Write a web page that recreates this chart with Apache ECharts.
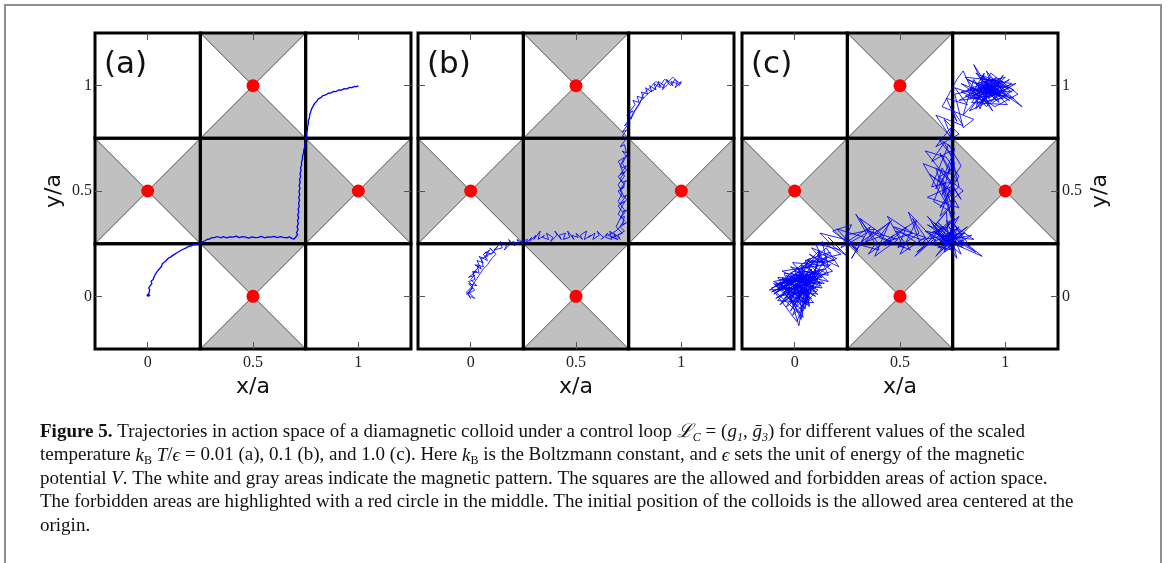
<!DOCTYPE html>
<html><head><meta charset="utf-8">
<script src="https://cdn.jsdelivr.net/npm/echarts@6/dist/echarts.min.js"></script>
<style>html,body{margin:0;padding:0;background:#fff}#c{width:1168px;height:563px}</style>
</head><body><div id="c"></div>
<script>
// ---------- data ----------
const tickValues = [0, 0.5, 1];
const axisMin = -0.25, axisMax = 1.25;
const panelLabels = ['(a)', '(b)', '(c)'];
// magnetic pattern cells: [x centre, y centre, kind]; kind 0 white, 1 full gray, 2 gray top/bottom, 3 gray left/right
const patternCells = [[0,0,0],[0.5,0,2],[1,0,0],[0,0.5,3],[0.5,0.5,1],[1,0.5,3],[0,1,0],[0.5,1,2],[1,1,0]];
const forbiddenCentres = [[0.5,1],[0,0.5],[1,0.5],[0.5,0]];

const trajA = [[0.000,0.000],[0.012,0.006],[-0.004,0.004],[0.006,0.014],[0.010,0.030],[0.005,0.040],[0.012,0.048],[0.020,0.060],[0.016,0.072],[0.026,0.080],[0.030,0.092],[0.036,0.104],[0.042,0.112],[0.050,0.124],[0.054,0.133],[0.066,0.143],[0.070,0.156],[0.082,0.164],[0.090,0.172],[0.098,0.181],[0.108,0.186],[0.115,0.194],[0.125,0.198],[0.134,0.206],[0.143,0.209],[0.152,0.218],[0.163,0.221],[0.172,0.228],[0.185,0.231],[0.196,0.238],[0.207,0.239],[0.218,0.245],[0.232,0.246],[0.242,0.250],[0.252,0.251],[0.262,0.259],[0.272,0.264],[0.284,0.271],[0.295,0.272],[0.305,0.279],[0.318,0.279],[0.330,0.284],[0.345,0.278],[0.360,0.283],[0.375,0.277],[0.390,0.282],[0.405,0.281],[0.420,0.286],[0.435,0.279],[0.450,0.283],[0.465,0.281],[0.480,0.276],[0.495,0.282],[0.510,0.279],[0.525,0.280],[0.540,0.285],[0.555,0.278],[0.570,0.282],[0.585,0.281],[0.600,0.285],[0.615,0.279],[0.630,0.283],[0.645,0.280],[0.660,0.278],[0.672,0.282],[0.684,0.275],[0.695,0.272],[0.703,0.281],[0.712,0.292],[0.706,0.302],[0.714,0.316],[0.709,0.330],[0.715,0.345],[0.711,0.360],[0.717,0.372],[0.712,0.386],[0.718,0.400],[0.714,0.414],[0.720,0.428],[0.716,0.442],[0.721,0.456],[0.717,0.470],[0.722,0.484],[0.718,0.498],[0.723,0.512],[0.719,0.526],[0.724,0.540],[0.721,0.554],[0.726,0.568],[0.723,0.582],[0.728,0.596],[0.726,0.610],[0.731,0.624],[0.730,0.638],[0.735,0.652],[0.735,0.666],[0.740,0.680],[0.741,0.694],[0.745,0.708],[0.746,0.722],[0.750,0.736],[0.751,0.750],[0.755,0.764],[0.755,0.778],[0.759,0.792],[0.759,0.806],[0.763,0.820],[0.763,0.834],[0.768,0.848],[0.769,0.862],[0.774,0.876],[0.778,0.890],[0.786,0.904],[0.792,0.915],[0.803,0.926],[0.810,0.937],[0.822,0.943],[0.832,0.953],[0.845,0.956],[0.857,0.964],[0.870,0.965],[0.882,0.973],[0.895,0.972],[0.908,0.980],[0.920,0.979],[0.933,0.986],[0.946,0.985],[0.958,0.992],[0.970,0.991],[0.982,0.997],[0.992,0.995],[1.000,1.000]];

const trajB = [[0.00,0.00],[0.02,-0.01],[-0.01,0.02],[0.01,0.04],[-0.02,0.01],[0.02,0.03],[-0.01,0.06],[0.03,0.05],[0.00,0.08],[0.02,0.10],[-0.01,0.09],[0.03,0.12],[0.01,0.11],[0.04,0.14],[0.02,0.15],[0.05,0.13],[0.03,0.17],[0.06,0.16],[0.04,0.19],[0.08,0.17],[0.06,0.20],[0.09,0.22],[0.07,0.19],[0.11,0.21],[0.09,0.23],[0.12,0.20],[0.10,0.18],[0.08,0.15],[0.06,0.13],[0.04,0.10],[0.02,0.07],[0.00,0.04],[-0.02,0.02],[0.00,-0.01],[-0.01,0.01],[0.01,0.05],[-0.01,0.07],[0.02,0.08],[0.01,0.12],[0.04,0.11],[0.03,0.15],[0.06,0.14],[0.05,0.18],[0.08,0.19],[0.07,0.21],[0.10,0.20],[0.13,0.24],[0.11,0.22],[0.15,0.23],[0.14,0.26],[0.17,0.24],[0.16,0.22],[0.19,0.25],[0.18,0.27],[0.21,0.24],[0.20,0.26],[0.23,0.25],[0.22,0.27],[0.25,0.25],[0.24,0.26],[0.27,0.27],[0.26,0.25],[0.29,0.28],[0.28,0.26],[0.31,0.29],[0.30,0.27],[0.33,0.31],[0.32,0.27],[0.35,0.29],[0.34,0.28],[0.37,0.27],[0.36,0.30],[0.39,0.28],[0.38,0.26],[0.41,0.29],[0.40,0.31],[0.43,0.27],[0.42,0.29],[0.45,0.30],[0.44,0.27],[0.47,0.28],[0.46,0.31],[0.49,0.27],[0.48,0.29],[0.51,0.28],[0.50,0.30],[0.53,0.27],[0.52,0.29],[0.55,0.31],[0.54,0.27],[0.57,0.29],[0.56,0.28],[0.59,0.30],[0.58,0.27],[0.61,0.29],[0.60,0.31],[0.63,0.28],[0.62,0.27],[0.65,0.30],[0.64,0.28],[0.67,0.27],[0.66,0.31],[0.69,0.28],[0.68,0.30],[0.71,0.27],[0.70,0.29],[0.73,0.31],[0.71,0.33],[0.74,0.35],[0.72,0.34],[0.73,0.38],[0.71,0.37],[0.74,0.41],[0.72,0.40],[0.70,0.43],[0.73,0.45],[0.71,0.44],[0.74,0.48],[0.72,0.47],[0.70,0.50],[0.73,0.52],[0.71,0.51],[0.74,0.55],[0.72,0.54],[0.70,0.57],[0.73,0.59],[0.71,0.58],[0.74,0.62],[0.72,0.61],[0.70,0.64],[0.73,0.66],[0.71,0.62],[0.73,0.57],[0.70,0.53],[0.72,0.49],[0.70,0.45],[0.73,0.41],[0.71,0.37],[0.69,0.33],[0.72,0.30],[0.67,0.28],[0.70,0.27],[0.65,0.29],[0.69,0.31],[0.70,0.32],[0.73,0.36],[0.70,0.39],[0.72,0.43],[0.74,0.46],[0.71,0.50],[0.73,0.53],[0.71,0.56],[0.74,0.60],[0.72,0.63],[0.74,0.67],[0.75,0.65],[0.72,0.69],[0.74,0.68],[0.73,0.72],[0.71,0.71],[0.74,0.75],[0.72,0.76],[0.74,0.79],[0.72,0.78],[0.75,0.82],[0.73,0.81],[0.76,0.85],[0.74,0.86],[0.77,0.88],[0.75,0.87],[0.78,0.91],[0.77,0.93],[0.80,0.92],[0.79,0.95],[0.82,0.94],[0.81,0.97],[0.84,0.96],[0.83,0.99],[0.86,0.97],[0.85,1.00],[0.88,0.98],[0.87,1.01],[0.90,0.99],[0.89,1.02],[0.92,1.00],[0.91,0.98],[0.94,1.01],[0.93,1.03],[0.96,1.00],[0.95,1.02],[0.98,1.01],[0.97,0.99],[1.00,1.02],[0.99,1.00],[0.97,1.03],[0.95,1.00],[0.93,1.02],[0.91,0.99],[0.89,1.01],[0.87,0.98],[0.85,0.97],[0.83,0.95],[0.81,0.93],[0.79,0.90],[0.77,0.87],[0.76,0.84],[0.78,0.88],[0.80,0.91],[0.82,0.96],[0.84,0.98],[0.86,1.00],[0.88,1.02],[0.90,1.00],[0.92,1.03],[0.94,1.02],[0.96,1.04],[0.98,1.02],[1.00,1.01]];

const trajC = [[0.00,0.00],[0.06,-0.04],[-0.05,0.05],[0.03,0.09],[-0.09,0.02],[0.02,-0.08],[0.08,0.04],[-0.04,-0.05],[0.05,0.10],[-0.11,0.04],[0.01,-0.12],[0.07,0.02],[-0.06,0.08],[0.10,0.06],[-0.02,-0.03],[0.04,0.13],[-0.08,-0.02],[0.09,-0.03],[0.00,0.07],[-0.10,0.01],[0.06,0.11],[0.02,-0.14],[-0.03,0.03],[0.11,0.08],[-0.07,0.06],[0.05,-0.06],[0.08,0.13],[-0.05,-0.01],[0.12,0.05],[0.01,0.10],[-0.09,0.05],[0.07,-0.02],[0.03,0.15],[0.13,0.09],[-0.04,0.07],[0.10,0.00],
[0.02,0.05],[-0.07,0.00],[0.06,0.03],[-0.03,0.08],[0.08,-0.01],[-0.10,0.06],[0.04,-0.07],[0.10,0.09],[-0.05,0.11],[0.01,-0.05],[0.12,0.07],[-0.08,0.03],[0.05,0.12],[-0.01,0.01],[0.09,0.05],[-0.06,0.09],[0.03,-0.11],[0.07,0.10],[-0.11,0.02],[0.02,0.09],[0.11,0.01],[-0.04,0.04],[0.06,-0.03],[0.00,0.12],[0.13,0.06],[-0.07,0.08],[0.04,0.02],[-0.02,-0.07],[0.08,0.11],[-0.09,-0.01],[0.05,0.06],[0.01,0.14],[0.10,0.02],[-0.05,0.07],[0.07,-0.04],[0.03,0.10],[-0.08,0.06],[0.12,0.12],[0.00,-0.02],[0.06,0.09],
[-0.03,0.02],[0.05,0.07],[-0.08,0.09],[0.00,-0.04],[0.09,0.09],[-0.06,-0.03],[0.04,0.04],[-0.12,0.03],[0.03,0.12],[0.07,-0.05],[-0.04,0.10],[0.11,0.03],[-0.01,-0.09],[0.06,0.08],[-0.09,0.06],[0.02,0.01],[0.10,0.12],[-0.05,0.02],[0.04,-0.10],[0.01,0.06],[-0.07,-0.04],[0.08,0.07],[-0.02,0.14],[0.12,0.10],[0.03,-0.02],[-0.08,0.04],[0.06,0.15],[0.13,0.04],[-0.03,0.06],[0.05,0.01],[-0.10,0.07],[0.09,0.11],[0.00,0.03],[0.07,0.18],[-0.04,0.09],[0.14,0.13],[0.02,0.08],[0.10,0.04],[-0.06,0.12],[0.08,0.14],[0.16,0.07],[0.04,0.10],[-0.01,0.16],[0.11,0.15],[0.06,0.05],[0.15,0.18],[0.03,0.13],[0.12,0.22],[0.09,0.09],[0.18,0.12],[0.07,0.20],[0.14,0.16],[0.05,0.17],[0.17,0.21],[0.10,0.14],[0.20,0.18],[0.08,0.23],[0.16,0.14],[0.13,0.26],[0.22,0.20],
[0.05,0.16],[0.15,0.11],[0.02,0.04],[0.09,0.17],[-0.02,0.11],[0.14,0.06],[0.06,0.14],[0.17,0.15],[0.08,0.08],[0.12,0.19],[0.04,0.12],[0.16,0.10],[0.11,0.21],[0.19,0.17],[0.07,0.16],[0.15,0.23],[0.21,0.14],[0.13,0.18],[0.10,0.25],[0.22,0.22],[0.16,0.28],[0.25,0.19],[0.18,0.24],[0.12,0.30],
[0.24,0.27],[0.30,0.21],[0.20,0.32],[0.33,0.28],[0.27,0.18],[0.36,0.33],[0.25,0.26],[0.40,0.22],[0.31,0.37],[0.42,0.29],[0.29,0.24],[0.45,0.35],[0.38,0.19],[0.49,0.27],[0.35,0.31],[0.52,0.23],[0.44,0.38],[0.56,0.30],[0.41,0.25],[0.58,0.36],[0.50,0.20],[0.62,0.28],[0.47,0.33],[0.60,0.24],[0.54,0.40],[0.66,0.27],[0.57,0.19],[0.70,0.33],[0.61,0.26],[0.74,0.22],[0.65,0.35],[0.72,0.28],[0.80,0.24],[0.68,0.30],[0.76,0.37],[0.71,0.21],[0.84,0.29],[0.69,0.26],[0.78,0.33],[0.73,0.25],[0.66,0.31],[0.79,0.20],[0.72,0.36],[0.85,0.27],[0.70,0.29],[0.77,0.18],[0.74,0.31],[0.89,0.19],[0.71,0.27],[0.63,0.38],[0.75,0.26],[0.68,0.23],[0.81,0.30],
[0.60,0.27],[0.48,0.31],[0.55,0.22],[0.40,0.28],[0.46,0.36],[0.33,0.25],[0.38,0.32],[0.24,0.29],[0.30,0.22],[0.18,0.31],[0.27,0.34],[0.22,0.23],[0.34,0.30],[0.29,0.39],[0.39,0.26],[0.35,0.20],[0.47,0.29],[0.43,0.24],[0.53,0.33],[0.49,0.23],[0.59,0.30],[0.56,0.37],[0.64,0.25],[0.58,0.21],[0.69,0.31],[0.63,0.34],[0.73,0.27],[0.67,0.19],[0.77,0.29],[0.70,0.24],[0.82,0.33],[0.75,0.28],[0.68,0.35],[0.79,0.25],[0.86,0.21],[0.74,0.30],[0.71,0.22],[0.80,0.27],[0.76,0.34],[0.83,0.24],[0.73,0.29],[0.78,0.38],[0.70,0.31],
[0.66,0.26],[0.75,0.30],[0.70,0.22],[0.64,0.30],[0.73,0.33],[0.79,0.28],[0.68,0.27],[0.74,0.24],[0.62,0.31],[0.71,0.29],[0.77,0.32],[0.69,0.25],[0.75,0.27],[0.66,0.35],[0.72,0.31],[0.80,0.23],[0.70,0.28],[0.74,0.36],[0.67,0.30],[0.73,0.26],
[0.72,0.40],[0.66,0.33],[0.76,0.45],[0.69,0.38],[0.74,0.52],[0.63,0.47],[0.78,0.42],[0.70,0.56],[0.75,0.35],[0.67,0.61],[0.80,0.50],[0.72,0.44],[0.61,0.63],[0.74,0.58],[0.69,0.68],[0.77,0.55],[0.65,0.52],[0.73,0.72],[0.79,0.62],[0.70,0.48],[0.75,0.66],[0.68,0.75],[0.76,0.70],[0.72,0.60],
[0.66,0.45],[0.76,0.39],[0.71,0.53],[0.64,0.58],[0.75,0.49],[0.69,0.42],[0.78,0.57],[0.72,0.66],[0.62,0.69],[0.73,0.55],[0.79,0.46],[0.70,0.61],[0.67,0.51],[0.76,0.63],[0.71,0.73],[0.65,0.64],[0.74,0.69],[0.78,0.52],[0.72,0.47],[0.69,0.57],[0.75,0.60],
[0.74,0.80],[0.67,0.71],[0.78,0.77],[0.71,0.84],[0.75,0.74],[0.67,0.86],[0.80,0.81],[0.74,0.90],[0.77,0.83],[0.72,0.94],[0.82,0.91],[0.76,0.99],[0.88,0.95],[0.80,0.86],[0.85,1.03],[0.92,0.92],[0.79,0.97],[0.95,1.01],[0.86,0.89],[0.90,1.06],[0.83,0.94],[0.98,0.96],[0.87,1.00],[0.94,0.88],[0.81,1.04],[0.99,1.02],[0.91,0.97],[0.85,1.10],[0.96,0.93],[0.89,0.99],[1.03,0.97],[0.93,1.04],[0.84,0.92],[1.01,0.91],[0.90,1.02],[0.97,0.98],[0.86,0.96],[1.05,1.01],[0.92,0.94],[0.99,1.05],[0.88,0.91],[0.95,0.99],[1.08,0.90],[0.94,1.03],[0.82,0.98],[1.00,0.96],[0.91,1.07],[0.97,0.92],[0.87,1.01],[1.02,0.99],[0.93,0.95],[0.78,0.93],[0.96,1.02],[0.89,0.97],[1.04,0.94],[0.92,1.00],[0.98,0.97],[0.85,0.95],[0.94,1.02],
[0.88,1.04],[0.95,0.95],[0.84,0.99],[0.91,0.90],[0.99,0.99],[0.86,1.06],[0.93,0.98],[1.02,1.03],[0.90,0.93],[0.81,0.95],[0.96,1.04],[0.87,0.97],[1.01,0.95],[0.92,1.01],[0.83,0.88],[0.97,0.95],[0.89,1.05],[1.04,0.98],[0.94,0.92],[0.86,1.01],[1.00,1.04],[0.91,0.96],[0.79,1.01],[0.95,0.90],[1.06,0.96],[0.93,1.06],[0.88,0.94],[0.98,1.00],[0.85,0.98],[0.96,0.97],[0.90,1.03],[1.03,1.01],[0.94,0.96],[0.87,0.92],[0.99,0.94],[0.82,1.03],[0.92,0.99],[1.02,0.93],[0.89,1.00],[0.97,1.03],[0.84,0.95],[0.95,1.00],[0.76,0.96],[0.80,0.80],[0.85,0.84],[0.70,0.90],[0.77,1.03],[0.80,1.07],[0.88,0.89],[0.93,1.02],[1.00,0.97],[0.90,0.98],[0.98,1.02],[0.86,0.94],[0.94,0.99],[1.00,1.00]];

const trajectories = [trajA, trajB, trajC];
const yLabelLeft = [true, false, false];
const yLabelRight = [false, false, true];

const captionLines = [
  '{b|Figure 5.} Trajectories in action space of a diamagnetic colloid under a control loop {i|ℒ}{s|C} = ({i|g}{s|1}, {i|ḡ}{s|3}) for different values of the scaled',
  'temperature {i|k}{u|B}{i| T}/{i|ϵ} = 0.01 (a), 0.1 (b), and 1.0 (c). Here {i|k}{u|B} is the Boltzmann constant, and {i|ϵ} sets the unit of energy of the magnetic',
  'potential {i|V}. The white and gray areas indicate the magnetic pattern. The squares are the allowed and forbidden areas of action space.',
  'The forbidden areas are highlighted with a red circle in the middle. The initial position of the colloids is the allowed area centered at the',
  'origin.'
];

// ---------- layout ----------
const gridLefts = [95, 418, 742];
const gridTop = 33, gridSize = 316;
const GRAY = '#c0c0c0';
const SERIF = 'Liberation Serif';
const SANS = 'DejaVu Sans';
const CAP = 19;

const chart = echarts.init(document.getElementById('c'), null, {renderer: 'canvas'});

const grid = [], xAxis = [], yAxis = [], series = [];
for (let i = 0; i < 3; i++) {
  grid.push({left: gridLefts[i], top: gridTop, width: gridSize, height: gridSize, containLabel: false, outerBoundsMode: 'none'});
  const tick = {show: true, inside: true, length: 7, customValues: tickValues, lineStyle: {color: '#555', width: 1}};
  const lbl = (show, margin) => ({show, customValues: tickValues, fontFamily: SERIF, fontSize: 16, color: '#222', margin});
  const base = {type: 'value', gridIndex: i, min: axisMin, max: axisMax, z: 10,
    axisLine: {show: false, onZero: false}, splitLine: {show: false}, axisTick: tick};
  const nameStyle = {fontFamily: SANS, fontSize: 22, color: '#111'};
  xAxis.push(Object.assign({}, base, {position: 'bottom', axisLabel: lbl(true, 6),
    name: 'x/a', nameLocation: 'middle', nameGap: 24, nameTextStyle: nameStyle}));
  xAxis.push(Object.assign({}, base, {position: 'top', axisLabel: {show: false}}));
  yAxis.push(Object.assign({}, base, {position: 'left', axisLabel: lbl(yLabelLeft[i], 3),
    name: yLabelLeft[i] ? 'y/a' : '', nameLocation: 'middle', nameRotate: 90, nameGap: 30, nameTextStyle: nameStyle}));
  yAxis.push(Object.assign({}, base, {position: 'right', axisLabel: lbl(yLabelRight[i], 4),
    name: yLabelRight[i] ? 'y/a' : '', nameLocation: 'middle', nameRotate: 90, nameGap: 31, nameTextStyle: nameStyle}));

  const h = 0.25;
  series.push({
    type: 'custom', xAxisIndex: 2 * i, yAxisIndex: 2 * i, z: 1, silent: true,
    data: patternCells,
    renderItem: function (params, api) {
      const cx = api.value(0), cy = api.value(1), kind = api.value(2);
      const P = (dx, dy) => api.coord([cx + dx, cy + dy]);
      const children = [];
      const poly = (pts) => children.push({type: 'polygon', shape: {points: pts}, style: {fill: GRAY, stroke: null}});
      if (kind === 1) {
        poly([P(-h,-h), P(h,-h), P(h,h), P(-h,h)]);
      } else if (kind === 2) {
        poly([P(-h,h), P(h,h), P(0,0)]);
        poly([P(-h,-h), P(h,-h), P(0,0)]);
      } else if (kind === 3) {
        poly([P(-h,h), P(-h,-h), P(0,0)]);
        poly([P(h,h), P(h,-h), P(0,0)]);
      }
      if (kind === 2 || kind === 3) {
        const a = P(-h,-h), b = P(h,h), c = P(-h,h), d = P(h,-h);
        children.push({type: 'line', shape: {x1: a[0], y1: a[1], x2: b[0], y2: b[1]}, style: {stroke: '#555', lineWidth: 1}});
        children.push({type: 'line', shape: {x1: c[0], y1: c[1], x2: d[0], y2: d[1]}, style: {stroke: '#555', lineWidth: 1}});
      }
      return {type: 'group', children};
    }
  });
  series.push({
    type: 'custom', xAxisIndex: 2 * i, yAxisIndex: 2 * i, z: 3, silent: true,
    data: patternCells,
    renderItem: function (params, api) {
      const cx = api.value(0), cy = api.value(1);
      const p1 = api.coord([cx - h, cy + h]), p2 = api.coord([cx + h, cy - h]);
      return {type: 'rect', shape: {x: p1[0], y: p1[1], width: p2[0] - p1[0], height: p2[1] - p1[1]},
        style: {fill: null, stroke: '#000', lineWidth: 3}};
    }
  });
  series.push({
    type: 'line', xAxisIndex: 2 * i, yAxisIndex: 2 * i, z: 4, data: trajectories[i],
    showSymbol: false, symbol: 'none', smooth: false, silent: true,
    lineStyle: {color: '#0000ff', width: i === 0 ? 1.3 : 0.85, opacity: 1}
  });
  series.push({
    type: 'scatter', xAxisIndex: 2 * i, yAxisIndex: 2 * i, z: 5, data: forbiddenCentres,
    symbol: 'circle', symbolSize: 13, itemStyle: {color: '#ff0000', opacity: 1}, silent: true
  });
}

const graphic = [
  {type: 'rect', shape: {x: 5, y: 5, width: 1156, height: 620}, style: {fill: null, stroke: '#8f8f8f', lineWidth: 2}, z: 0}
];
for (let i = 0; i < 3; i++) {
  graphic.push({type: 'text', x: gridLefts[i] + 9, y: 65, z: 20,
    style: {text: panelLabels[i], fontFamily: SANS, fontSize: 31, fill: '#111', verticalAlign: 'middle', align: 'left'}});
}
const capRich = {
  b: {fontFamily: SERIF, fontSize: CAP, fontWeight: 'bold', lineHeight: 23, fill: '#111'},
  i: {fontFamily: SERIF, fontSize: CAP, fontStyle: 'italic', lineHeight: 23, fill: '#111'},
  s: {fontFamily: SERIF, fontSize: 12, fontStyle: 'italic', lineHeight: 15, verticalAlign: 'bottom', fill: '#111'},
  u: {fontFamily: SERIF, fontSize: 12, lineHeight: 15, verticalAlign: 'bottom', fill: '#111'}
};
const capTop = 432 - 11.5, capStep = 23.5;
captionLines.forEach((t, k) => {
  graphic.push({type: 'text', x: 40, y: capTop + k * capStep, z: 20,
    style: {text: t, fontFamily: SERIF, fontSize: CAP, lineHeight: 23, fill: '#111', rich: capRich, verticalAlign: 'top'}});
});

chart.setOption({
  animation: false,
  backgroundColor: '#fff',
  grid, xAxis, yAxis, series, graphic
});
</script></body></html>
